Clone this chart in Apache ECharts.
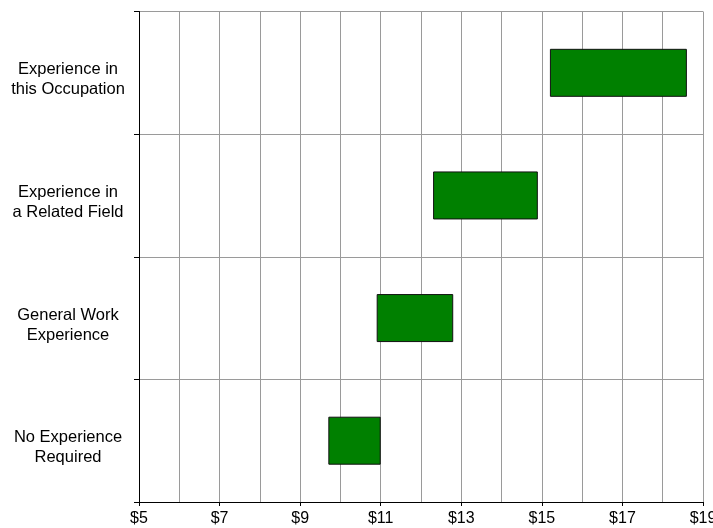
<!DOCTYPE html>
<html>
<head>
<meta charset="utf-8">
<script src="https://cdn.jsdelivr.net/npm/echarts@6/dist/echarts.min.js"></script>
<style>
  html, body { margin: 0; padding: 0; background: #ffffff; }
  #chart { width: 713px; height: 528px; }
</style>
</head>
<body>
<div id="chart"></div>
<script>
// Hourly wage ranges by experience level (bottom to top)
const categories = [
  'No Experience\nRequired',
  'General Work\nExperience',
  'Experience in\na Related Field',
  'Experience in\nthis Occupation'
];
const wageLow  = [9.70, 10.90, 12.30, 15.20];
const wageHigh = [11.00, 12.80, 14.90, 18.60];
const tickValues = [5, 7, 9, 11, 13, 15, 17, 19];

const rangeSpan = wageHigh.map((h, i) => +(h - wageLow[i]).toFixed(2));

const FONT = '"Liberation Sans", Arial, sans-serif';

// category labels sit a little below the band centre: a short spacer line goes first
function categoryLabel(name) {
  return '{s| }\n' + name.split('\n').map(line => '{t|' + line + '}').join('\n');
}

const chart = echarts.init(document.getElementById('chart'), null, { renderer: 'canvas' });

chart.setOption({
  animation: false,
  backgroundColor: '#ffffff',
  grid: {
    left: 139, right: 10, top: 11.5, bottom: 26,
    containLabel: false,
    outerBoundsMode: 'none'
  },
  xAxis: [
    {
      // dollar grid: a vertical line at every $1
      type: 'value',
      min: 5,
      max: 19,
      interval: 1,
      position: 'bottom',
      axisLine: { show: true, lineStyle: { color: '#000000', width: 1 } },
      axisTick: { show: false },
      axisLabel: { show: false },
      splitLine: { show: true, lineStyle: { color: '#9a9a9a', width: 1 } }
    },
    {
      // ticks and labels every $2
      type: 'value',
      min: 5,
      max: 19,
      position: 'bottom',
      axisLine: { show: false },
      axisTick: {
        show: true,
        length: 4,
        customValues: tickValues,
        lineStyle: { color: '#000000' }
      },
      axisLabel: {
        customValues: tickValues,
        formatter: v => '$' + v,
        color: '#000000',
        fontFamily: FONT,
        fontSize: 16,
        margin: 9
      },
      splitLine: { show: false }
    }
  ],
  yAxis: {
    type: 'category',
    data: categories,
    axisLine: { show: true, lineStyle: { color: '#000000', width: 1 } },
    axisTick: { show: true, length: 5, lineStyle: { color: '#000000' } },
    axisLabel: {
      formatter: categoryLabel,
      align: 'center',
      margin: 71,
      rich: {
        s: { fontSize: 10, lineHeight: 14, fontFamily: FONT },
        t: { color: '#000000', fontFamily: FONT, fontSize: 16.5, lineHeight: 20, align: 'center' }
      }
    },
    splitLine: { show: true, lineStyle: { color: '#9a9a9a', width: 1 } }
  },
  series: [
    {
      name: 'base',
      type: 'bar',
      stack: 'wage',
      xAxisIndex: 0,
      data: wageLow,
      itemStyle: { color: 'transparent' },
      silent: true,
      barWidth: 48
    },
    {
      name: 'range',
      type: 'bar',
      stack: 'wage',
      xAxisIndex: 0,
      data: rangeSpan,
      barWidth: 48,
      itemStyle: { color: '#008000', borderColor: '#111111', borderWidth: 1 }
    }
  ]
});
</script>
</body>
</html>
